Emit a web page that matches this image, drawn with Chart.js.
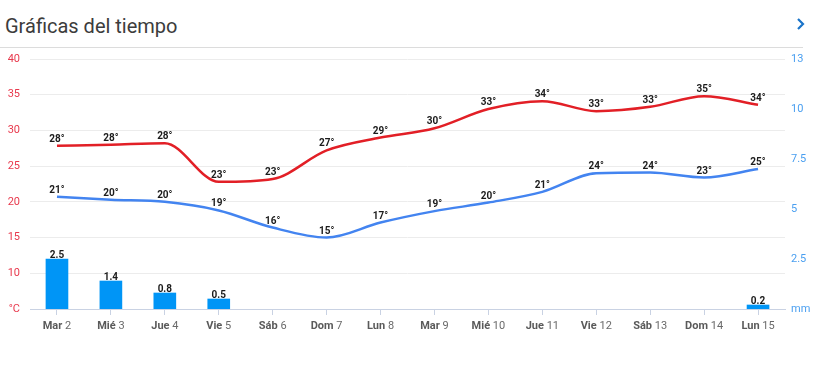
<!DOCTYPE html>
<html>
<head>
<meta charset="utf-8">
<script src="https://cdn.jsdelivr.net/npm/chart.js@4.4.1/dist/chart.umd.min.js"></script>
<style>
  body { margin: 0; background: #fff; font-family: Roboto, sans-serif; }
  #titulo { position: absolute; left: 5px; top: 14px; font-size: 20px; color: #3c3c3c; }
  #linea { position: absolute; left: 0; top: 47px; width: 803px; height: 1px; background: #dcdcdc; }
  #flecha { position: absolute; left: 795px; top: 17px; }
  #grafica { position: absolute; left: 0; top: 40px; }
</style>
</head>
<body>
<div id="titulo">Gráficas del tiempo</div>
<svg id="flecha" width="12" height="14"><polyline points="3,2 8,7 3,12" fill="none" stroke="#1a74c9" stroke-width="2.2"/></svg>
<div id="linea"></div>
<canvas id="grafica" width="837" height="305"></canvas>
<script>
// dias del pronostico
var dias = ['Mar', 'Mié', 'Jue', 'Vie', 'Sáb', 'Dom', 'Lun', 'Mar', 'Mié', 'Jue', 'Vie', 'Sáb', 'Dom', 'Lun'];
var fechas = [2, 3, 4, 5, 6, 7, 8, 9, 10, 11, 12, 13, 14, 15];

// temperaturas (°C) y precipitacion (mm)
var tempMax = [27.85, 28.0, 28.2, 22.8, 23.2, 27.2, 29.0, 30.3, 33.0, 34.1, 32.7, 33.3, 34.8, 33.6];
var tempMin = [20.7, 20.3, 20.0, 18.8, 16.4, 15.0, 17.1, 18.7, 19.9, 21.4, 24.0, 24.1, 23.4, 24.6];
var lluvia = [2.5, 1.4, 0.8, 0.5, null, null, null, null, null, null, null, null, null, 0.2];

var etiquetas = dias.map(function(d, i) { return d + ' ' + fechas[i]; });

// Valores encima de cada punto y barra + etiquetas del eje x
var etiquetasPlugin = {
    id: 'etiquetas',
    afterDatasetsDraw: function(chart) {
        var ctx = chart.ctx;
        ctx.save();
        ctx.textAlign = 'center';
        ctx.textBaseline = 'alphabetic';
        ctx.fillStyle = '#1b1b1b';
        ctx.font = 'bold 10px Roboto';
        chart.data.datasets.forEach(function(ds, di) {
            var meta = chart.getDatasetMeta(di);
            meta.data.forEach(function(el, i) {
                var v = ds.data[i];
                if (v === null) return;
                if (ds.type === 'bar') {
                    ctx.fillText(String(v), el.x, el.y - 1);
                } else {
                    ctx.fillText(Math.round(v) + '°', el.x, el.y - 4);
                }
            });
        });
        ctx.restore();
    },
    afterDraw: function(chart) {
        var ctx = chart.ctx;
        var xs = chart.scales.x;
        ctx.save();
        ctx.textBaseline = 'middle';
        ctx.textAlign = 'left';
        dias.forEach(function(d, i) {
            var x = xs.getPixelForValue(i);
            var num = ' ' + fechas[i];
            ctx.font = 'bold 11px Roboto';
            var w1 = ctx.measureText(d).width;
            ctx.font = '11px Roboto';
            var w2 = ctx.measureText(num).width;
            var inicio = x - (w1 + w2) / 2;
            ctx.font = 'bold 11px Roboto';
            ctx.fillStyle = '#5a5a5a';
            ctx.fillText(d, inicio, xs.top + 17);
            ctx.font = '11px Roboto';
            ctx.fillStyle = '#6a6a6a';
            ctx.fillText(num, inicio + w1, xs.top + 17);
        });
        ctx.restore();
    }
};

var ctx = document.getElementById('grafica').getContext('2d');
var chart = new Chart(ctx, {
    data: {
        labels: etiquetas,
        datasets: [{
            type: 'line',
            data: tempMax,
            yAxisID: 'y',
            borderColor: '#e21f26',
            borderWidth: 2.5,
            pointRadius: 0,
            cubicInterpolationMode: 'monotone',
            order: 0
        }, {
            type: 'line',
            data: tempMin,
            yAxisID: 'y',
            borderColor: '#4384f0',
            borderWidth: 2.5,
            pointRadius: 0,
            cubicInterpolationMode: 'monotone',
            order: 0
        }, {
            type: 'bar',
            data: lluvia,
            yAxisID: 'y1',
            backgroundColor: '#0095f6',
            barThickness: 22,
            order: 1
        }]
    },
    options: {
        responsive: false,
        animation: false,
        layout: { padding: { top: 19, left: 0, right: 0, bottom: 0 } },
        plugins: { legend: { display: false }, tooltip: { enabled: false } },
        scales: {
            x: {
                offset: true,
                grid: { drawOnChartArea: false, offset: false, tickLength: 6, color: '#c9d2e3' },
                border: { color: '#c9d2e3' },
                ticks: { color: 'rgba(0,0,0,0)', autoSkip: false, maxRotation: 0 },
                afterFit: function(s) { s.height = 36; }
            },
            y: {
                position: 'left',
                min: 5,
                max: 40,
                ticks: {
                    stepSize: 5,
                    color: '#e8394d',
                    font: { size: 11, family: 'Roboto' },
                    padding: 10,
                    callback: function(v) { return v === 5 ? '°C' : v; }
                },
                grid: { color: '#ececec', drawTicks: false },
                border: { display: false },
                afterFit: function(s) { s.width = 30; }
            },
            y1: {
                position: 'right',
                min: 0,
                max: 12.5,
                ticks: {
                    stepSize: 2.5,
                    color: '#4a9ff0',
                    font: { size: 11, family: 'Roboto' },
                    padding: 6,
                    callback: function(v) {
                        if (v === 0) return 'mm';
                        if (v === 12.5) return '13';
                        return v;
                    }
                },
                grid: { display: false, drawTicks: false },
                border: { display: false },
                afterFit: function(s) { s.width = 52; }
            }
        }
    },
    plugins: [etiquetasPlugin]
});
</script>
</body>
</html>
